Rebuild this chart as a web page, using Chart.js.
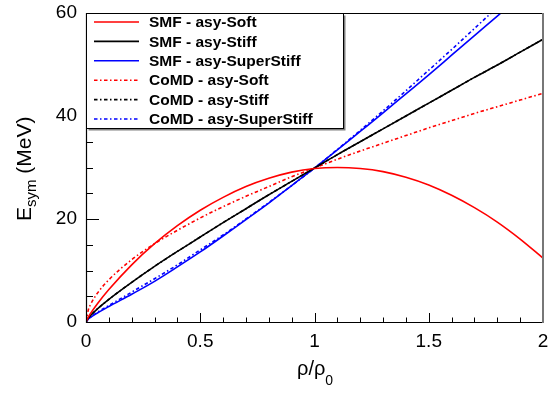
<!DOCTYPE html>
<html>
<head>
<meta charset="utf-8">
<script src="https://cdn.jsdelivr.net/npm/chart.js@4/dist/chart.umd.min.js"></script>
<style>
html, body { margin: 0; padding: 0; background: #fff; }
#wrap { width: 556px; height: 393px; }
</style>
</head>
<body>
<div id="wrap"><canvas id="chart" width="556" height="393"></canvas></div>
<script>
// density rho/rho0 and symmetry energy (MeV)
const rho = [0, 0.01, 0.02, 0.05, 0.1, 0.2, 0.3, 0.4, 0.5, 0.6, 0.7, 0.8, 0.9, 1.0, 1.1, 1.2, 1.3, 1.4, 1.5, 1.6, 1.7, 1.8, 1.9, 2.0];
const smfSoft  = [0, 0.95, 1.67, 3.55, 6.3, 11.1, 15.2, 18.7, 21.7, 24.2, 26.3, 27.9, 29.1, 29.8, 30.0, 29.8, 29.2, 28.1, 26.6, 24.6, 22.2, 19.4, 16.1, 12.4];
const smfStiff = [0, 0.75, 1.26, 2.55, 4.4, 7.7, 10.8, 13.7, 16.5, 19.3, 22.0, 24.7, 27.3, 29.9, 32.5, 35.0, 37.5, 40.0, 42.5, 45.0, 47.5, 49.9, 52.4, 54.9];
const smfSuper = [0, 0.57, 0.92, 1.75, 3.0, 5.4, 7.9, 10.7, 13.6, 16.7, 19.9, 23.1, 26.5, 29.9, 33.4, 37.0, 40.6, 44.3, 48.0, 51.8, 55.6, 59.4, 63.2, 67.0];
const comdSoft  = [0, 2.3, 3.4, 5.6, 8.2, 12.1, 15.2, 17.8, 20.2, 22.4, 24.4, 26.3, 28.2, 29.9, 31.6, 33.2, 34.7, 36.2, 37.7, 39.1, 40.5, 41.8, 43.1, 44.4];
const comdStiff = [0, 0.75, 1.26, 2.55, 4.4, 7.7, 10.8, 13.7, 16.5, 19.3, 22.0, 24.7, 27.3, 29.9, 32.5, 35.0, 37.5, 40.0, 42.5, 45.0, 47.5, 49.9, 52.4, 54.9];
const comdSuper = [0, 0.59, 0.96, 1.9, 3.2, 5.8, 8.4, 11.1, 14.0, 16.9, 20.0, 23.2, 26.5, 29.9, 33.5, 37.2, 41.0, 44.9, 48.9, 52.9, 57.0, 61.1, 65.3, 69.5];

const labels = ['SMF - asy-Soft', 'SMF - asy-Stiff', 'SMF - asy-SuperStiff',
                'CoMD - asy-Soft', 'CoMD - asy-Stiff', 'CoMD - asy-SuperStiff'];
const series = [smfSoft, smfStiff, smfSuper, comdSoft, comdStiff, comdSuper];
const colors = ['#ff0000', '#000000', '#0000ff', '#ff0000', '#000000', '#0000ff'];
const dashDot = [3.5, 2.5, 1.5, 2.5];

const xTicks = [0, 0.5, 1, 1.5, 2];
const yTicks = [0, 20, 40, 60];

const datasets = series.map((ys, i) => ({
    label: labels[i],
    data: rho.map((x, j) => ({x: x, y: ys[j]})),
    borderColor: colors[i],
    borderWidth: 1.6,
    borderDash: i >= 3 ? dashDot : [],
    pointRadius: 0,
    cubicInterpolationMode: 'monotone',
    fill: false
}));

// ROOT style frame, inner ticks, boxed legend and axis titles
const rootStyle = {
    id: 'rootStyle',
    afterDatasetsDraw(chart) {
        const {ctx, chartArea: a, scales: {x, y}} = chart;
        ctx.save();
        ctx.strokeStyle = '#000';
        ctx.lineWidth = 1;
        for (let i = 0; i <= 20; i++) {
            const px = Math.round(x.getPixelForValue(i / 10)) + 0.5;
            const len = i % 5 === 0 ? 9 : 4.5;
            ctx.beginPath(); ctx.moveTo(px, a.bottom); ctx.lineTo(px, a.bottom - len); ctx.stroke();
        }
        for (let v = 0; v <= 60; v += 5) {
            const py = Math.round(y.getPixelForValue(v)) + 0.5;
            const len = v % 20 === 0 ? 13 : 7;
            ctx.beginPath(); ctx.moveTo(a.left, py); ctx.lineTo(a.left + len, py); ctx.stroke();
        }
        ctx.lineWidth = 1.2;
        ctx.beginPath();
        ctx.moveTo(a.left + 0.5, a.top); ctx.lineTo(a.left + 0.5, a.bottom + 0.5);
        ctx.lineTo(a.right, a.bottom + 0.5);
        ctx.stroke();
        ctx.beginPath();
        ctx.moveTo(a.left, a.top + 0.5); ctx.lineTo(a.right, a.top + 0.5);
        ctx.stroke();
        ctx.strokeStyle = '#777';
        ctx.lineWidth = 2;
        ctx.beginPath(); ctx.moveTo(a.right, a.top); ctx.lineTo(a.right, a.bottom + 1); ctx.stroke();
        ctx.restore();
    },
    afterDraw(chart) {
        const {ctx, chartArea: a} = chart;
        ctx.save();
        // legend box
        const bx = a.left + 0.5, by = a.top + 0.5, bw = 257, bh = 115;
        ctx.fillStyle = '#808080';
        ctx.fillRect(bx + 2, by + 2, bw, bh);
        ctx.fillStyle = '#fff';
        ctx.fillRect(bx, by, bw, bh);
        ctx.strokeStyle = '#000';
        ctx.lineWidth = 1;
        ctx.strokeRect(bx, by, bw, bh);
        ctx.font = 'bold 15.5px "Liberation Sans", Arial, sans-serif';
        ctx.textBaseline = 'middle';
        chart.data.datasets.forEach((ds, i) => {
            const cy = a.top + 9 + i * 19.4;
            ctx.strokeStyle = ds.borderColor;
            ctx.lineWidth = 1.6;
            ctx.setLineDash(ds.borderDash);
            ctx.beginPath(); ctx.moveTo(94, cy); ctx.lineTo(139, cy); ctx.stroke();
            ctx.setLineDash([]);
            ctx.fillStyle = '#000';
            ctx.fillText(ds.label, 149, cy + 1);
        });
        // axis titles
        ctx.fillStyle = '#000';
        ctx.textBaseline = 'alphabetic';
        ctx.font = '20px "Liberation Sans", Arial, sans-serif';
        const w = ctx.measureText('ρ/ρ').width;
        ctx.fillText('ρ/ρ', 297, 375);
        ctx.font = '14px "Liberation Sans", Arial, sans-serif';
        ctx.fillText('0', 297 + w, 385);

        ctx.translate(31, 221);
        ctx.rotate(-Math.PI / 2);
        ctx.font = '21px "Liberation Sans", Arial, sans-serif';
        ctx.fillText('E', 0, 0);
        let off = ctx.measureText('E').width;
        ctx.font = '15px "Liberation Sans", Arial, sans-serif';
        ctx.fillText('sym', off, 5);
        off += ctx.measureText('sym').width;
        ctx.font = '21px "Liberation Sans", Arial, sans-serif';
        ctx.fillText(' (MeV)', off, 0);
        ctx.restore();
    }
};

new Chart(document.getElementById('chart'), {
    type: 'line',
    data: {datasets: datasets},
    options: {
        responsive: false,
        animation: false,
        layout: {padding: {left: 0, top: 13, right: 13, bottom: 0}},
        plugins: {legend: {display: false}, tooltip: {enabled: false}},
        scales: {
            x: {
                type: 'linear', min: 0, max: 2,
                grid: {display: false, drawTicks: false},
                border: {display: false},
                afterFit: s => { s.height = 71; s.paddingLeft = 0; s.paddingRight = 0; },
                afterBuildTicks: s => { s.ticks = xTicks.map(v => ({value: v})); },
                ticks: {
                    color: '#000', padding: 8,
                    font: {size: 19, family: '"Liberation Sans", Arial, sans-serif'},
                    callback: v => String(v)
                }
            },
            y: {
                type: 'linear', min: 0, max: 60,
                grid: {display: false, drawTicks: false},
                border: {display: false},
                afterFit: s => { s.width = 86; s.paddingTop = 0; s.paddingBottom = 0; },
                afterBuildTicks: s => { s.ticks = yTicks.map(v => ({value: v})); },
                ticks: {
                    color: '#000', padding: 9,
                    font: {size: 19, family: '"Liberation Sans", Arial, sans-serif'}
                }
            }
        }
    },
    plugins: [rootStyle]
});
</script>
</body>
</html>
